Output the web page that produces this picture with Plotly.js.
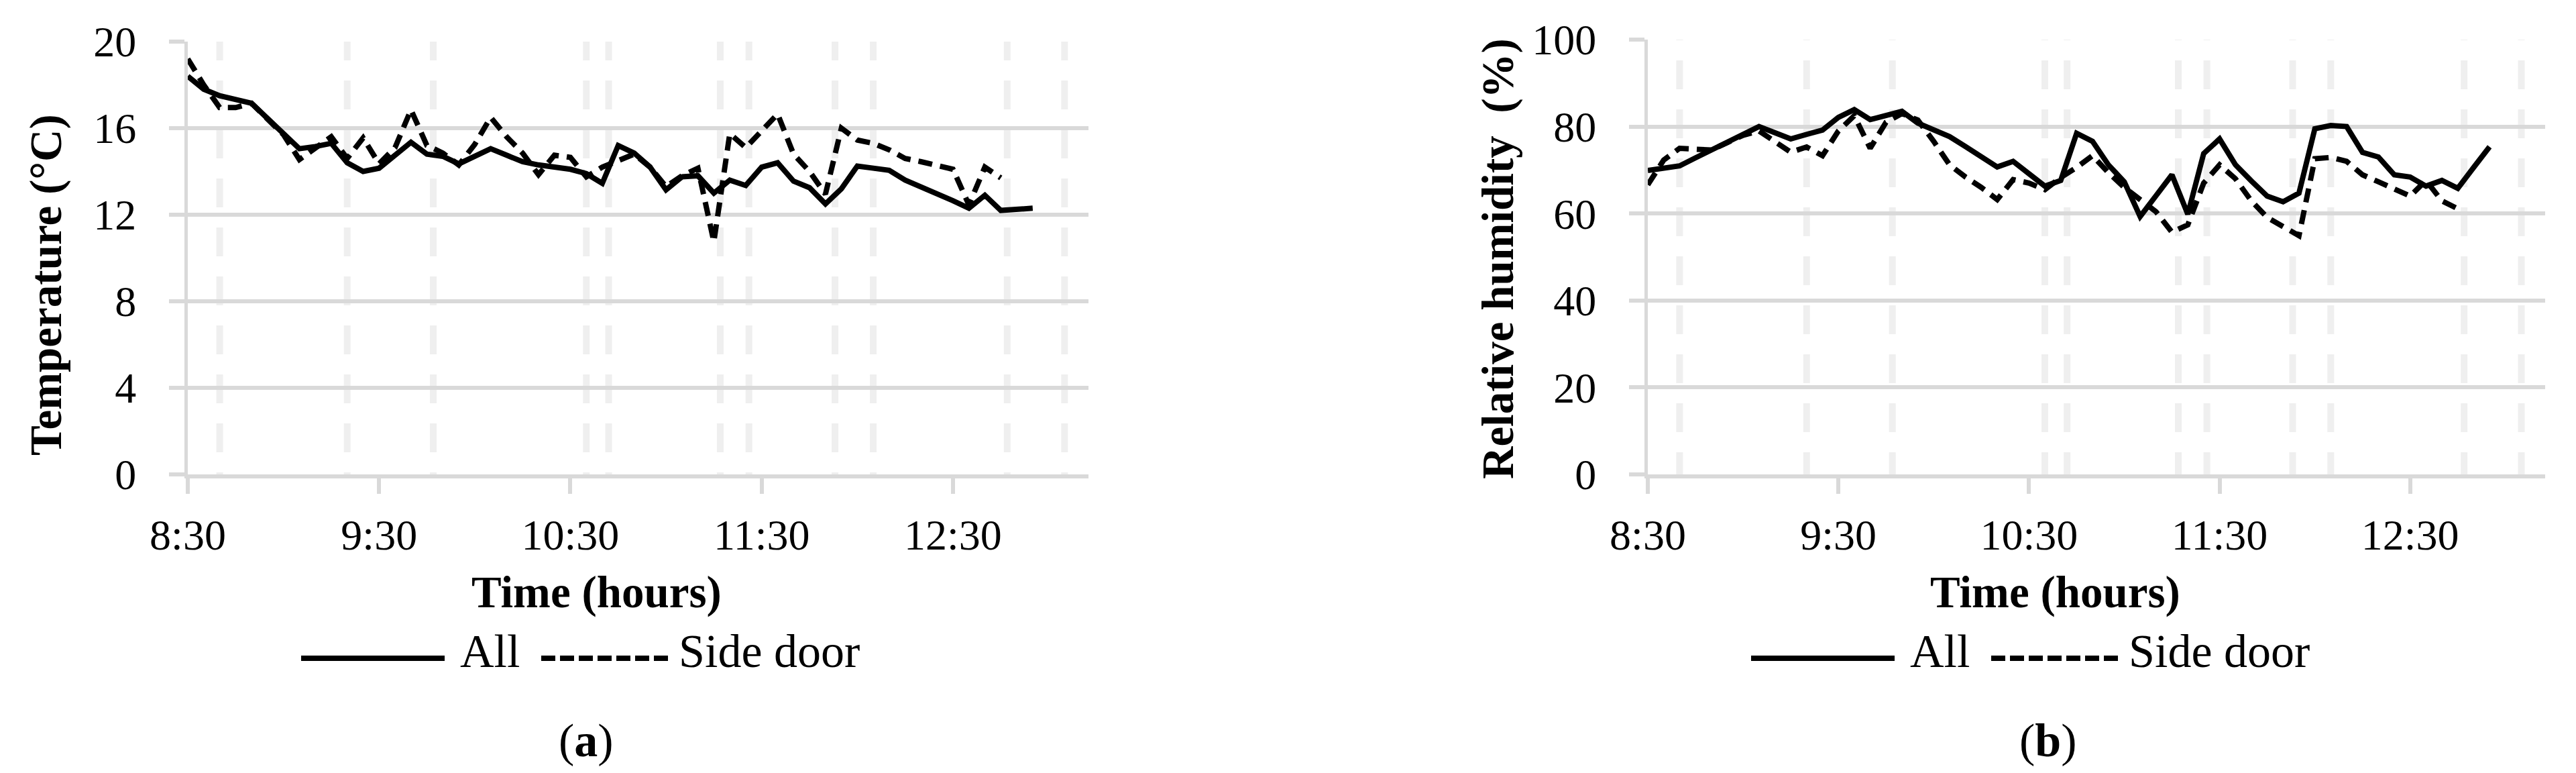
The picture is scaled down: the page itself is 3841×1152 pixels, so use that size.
<!DOCTYPE html>
<html><head><meta charset="utf-8">
<script src="https://cdn.plot.ly/plotly-3.0.1.min.js"></script>
<style>html,body{margin:0;padding:0;background:#fff;}#chart{width:3841px;height:1152px;}</style>
</head><body><div id="chart"></div>
<script>
// minutes after 8:30
const minutesAll = [0,5,10,15,20,25,30,35,40,45,50,55,60,65,70,75,80,85,90,95,100,105,110,115,120,125,130,135,140,145,150,155,160,165,170,175,180,185,190,195,200,205,210,215,220,225,230,235,240,245,250,255,260,265];
const minutesSide = [0,5,10,15,20,25,30,35,40,45,50,55,60,65,70,75,80,85,90,95,100,105,110,115,120,125,130,135,140,145,150,155,160,165,170,175,180,185,190,195,200,205,210,215,220,225,230,235,240,245,250,255];

const tempAll = [18.4,17.8,17.5,17.3,17.15,16.45,15.75,15.05,15.15,15.3,14.4,14.0,14.15,14.75,15.35,14.8,14.7,14.35,14.7,15.05,14.75,14.45,14.3,14.2,14.1,13.9,13.45,15.2,14.85,14.2,13.15,13.75,13.8,13.0,13.6,13.35,14.2,14.4,13.55,13.25,12.5,13.2,14.25,14.15,14.05,13.6,13.3,13.0,12.65,12.3,12.9,12.2,12.25,12.3];
const tempSide = [19.2,18.0,16.95,16.95,17.15,16.4,15.7,14.55,15.05,15.6,14.6,15.55,14.35,15.1,16.85,15.2,14.85,14.3,15.25,16.5,15.6,14.85,13.85,14.75,14.65,13.75,14.2,14.5,14.8,14.2,13.3,13.8,14.15,10.75,15.75,15.1,15.85,16.65,14.8,14.0,12.95,16.0,15.45,15.3,15.0,14.6,14.45,14.3,14.1,12.45,14.2,13.7];

const humAll = [69.9,70.3,70.95,72.8,74.6,76.4,78.2,80.0,78.6,77.15,78.2,79.2,82.1,83.9,81.6,82.6,83.5,80.8,79.2,77.7,75.4,73.1,70.7,72.0,69.0,66.3,67.6,78.45,76.6,71.2,67.3,59.3,64.1,68.9,59.85,73.8,77.15,71.2,67.5,64.0,62.7,64.7,79.5,80.25,80.0,74.05,73.0,68.9,68.4,66.3,67.6,65.8,70.6,75.35];
const humSide = [66.6,72.3,75.0,74.8,74.6,76.3,78.0,79.0,76.6,74.1,75.3,73.3,79.0,82.5,75.0,81.0,83.0,81.5,76.6,71.2,68.4,66.0,63.2,67.8,67.0,65.5,68.3,70.6,73.3,69.4,66.0,63.2,60.4,55.7,57.4,67.0,71.2,68.0,62.9,59.1,57.0,54.9,72.6,72.9,72.0,68.9,67.3,65.5,64.0,67.6,62.9,61.1];

// door-opening events (minutes after 8:30), shown as light dashed verticals
const eventMinutes = [10,50,77,125,132,167,176,203,215,257,275];

const tickMinutes = [0,60,120,180,240];
const tickLabels = ["8:30","9:30","10:30","11:30","12:30"];
const seriesNames = ["All","Side door"];

const W = 3841, H = 1152;
const px = x => x / W;
const py = y => 1 - y / H;
const FONT = "Liberation Serif";
const GRID = "#d9d9d9";

const traces = [
  {x: minutesAll, y: tempAll, name: seriesNames[0], xaxis:'x', yaxis:'y', mode:'lines', line:{color:'#000', width:8}},
  {x: minutesSide, y: tempSide, name: seriesNames[1], xaxis:'x', yaxis:'y', mode:'lines', line:{color:'#000', width:8, dash:'21px,12px'}},
  {x: minutesAll, y: humAll, name: seriesNames[0], xaxis:'x2', yaxis:'y2', mode:'lines', line:{color:'#000', width:8}},
  {x: minutesSide, y: humSide, name: seriesNames[1], xaxis:'x2', yaxis:'y2', mode:'lines', line:{color:'#000', width:8, dash:'21px,12px'}}
];

function xAxis(domain){
  return {domain: domain, range:[0,282.5], tickvals: tickMinutes, ticktext: tickLabels,
    ticks:'outside', ticklen:23, tickwidth:6, tickcolor:GRID, showline:true, linecolor:GRID, linewidth:6,
    showgrid:false, zeroline:false, tickfont:{family:FONT, size:64, color:'#000'}, ticklabelstandoff:6, fixedrange:true};
}
function yAxis(domain, range, dtick, anchor){
  return {domain: domain, range: range, dtick: dtick, tick0:0, anchor: anchor,
    ticks:'outside', ticklen:23, tickwidth:6, tickcolor:GRID, showline:true, linecolor:GRID, linewidth:5,
    showgrid:true, gridcolor:GRID, gridwidth:6, zeroline:false,
    tickfont:{family:FONT, size:64, color:'#000'}, ticklabelstandoff:36, fixedrange:true};
}

const shapes = [];
eventMinutes.forEach(t => {
  shapes.push({type:'line', xref:'x', yref:'y', x0:t, x1:t, y0:20.465, y1:0, layer:'below',
    line:{color:'#efefef', width:10, dash:'43px,30px'}});
  shapes.push({type:'line', xref:'x2', yref:'y2', x0:t, x1:t, y0:106.5, y1:0, layer:'below',
    line:{color:'#efefef', width:10, dash:'43px,30px'}});
});

const annotations = [];
function txt(text, x, y, size, opts){
  annotations.push(Object.assign({text:text, xref:'paper', yref:'paper', x:px(x), y:py(y), showarrow:false,
    xanchor:'center', yanchor:'middle', font:{family:FONT, size:size, color:'#000'}}, opts||{}));
}
// legends (custom, to match the long legend keys)
[0, 2162].forEach(off => {
  shapes.push({type:'line', xref:'paper', yref:'paper', x0:px(449+off), x1:px(663+off), y0:py(981), y1:py(981),
    line:{color:'#000', width:8}});
  shapes.push({type:'line', xref:'paper', yref:'paper', x0:px(807+off), x1:px(1003+off), y0:py(981), y1:py(981),
    line:{color:'#000', width:8, dash:'21px,7px'}});
  txt(seriesNames[0], 684+off, 970, 70, {xanchor:'left'});
  txt(seriesNames[1], 1010+off, 970, 70, {xanchor:'left'});
});
txt('<b>Time (hours)</b>', 889, 882, 67);
txt('<b>Time (hours)</b>', 3064, 882, 67);
txt('<b>Temperature (°C)</b>', 68, 425, 67, {textangle:-90});
txt('<b>Relative humidity \u00a0(%)</b>', 2233, 386, 67, {textangle:-90});
txt('(<b>a</b>)', 874, 1103, 70);
txt('(<b>b</b>)', 3054, 1103, 70);

const layout = {
  width: W, height: H, margin:{l:0,r:0,t:0,b:0}, paper_bgcolor:'#fff', plot_bgcolor:'#fff',
  showlegend:false, font:{family:FONT, color:'#000'},
  xaxis: xAxis([px(280), px(1623)]),
  yaxis: yAxis([py(707), py(62)], [0,20], 4, 'x'),
  xaxis2: Object.assign(xAxis([px(2457), px(3795)]), {anchor:'y2'}),
  yaxis2: yAxis([py(707), py(59)], [0,100], 20, 'x2'),
  shapes: shapes, annotations: annotations
};
layout.xaxis.anchor = 'y';

Plotly.newPlot('chart', traces, layout, {staticPlot:true, displayModeBar:false});
</script></body></html>
